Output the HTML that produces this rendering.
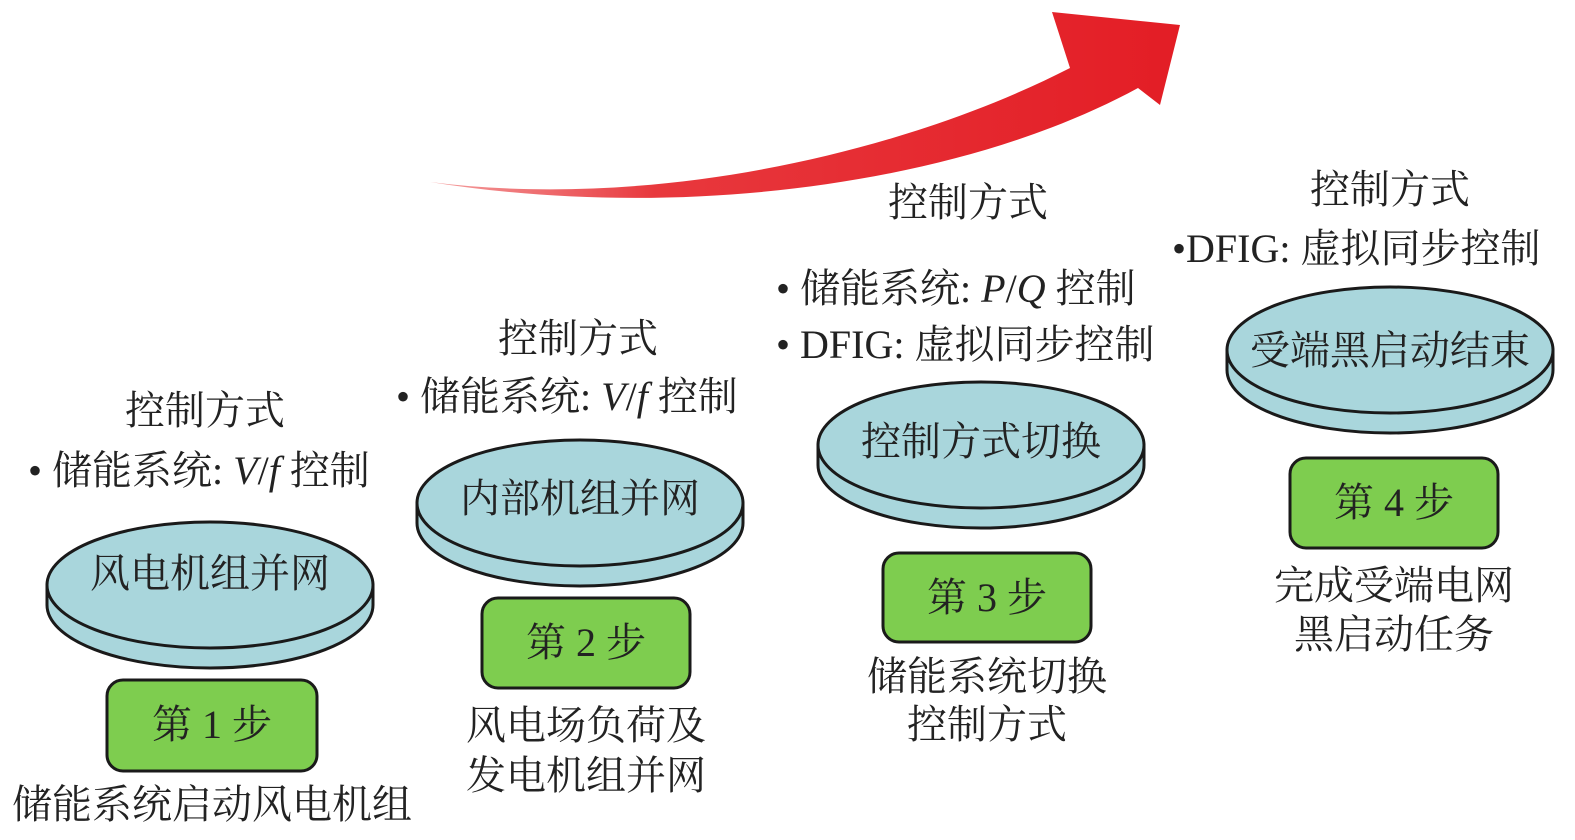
<!DOCTYPE html>
<html><head><meta charset="utf-8"><style>
body{margin:0;background:#fff}
svg text{font-family:"Liberation Serif","Noto Serif CJK SC",serif;font-size:40px;fill:#222}
</style></head><body>
<svg width="1575" height="835" viewBox="0 0 1575 835" xmlns="http://www.w3.org/2000/svg">
<defs>
<linearGradient id="rg" x1="0" y1="0" x2="1" y2="0">
<stop offset="0" stop-color="#f4a0a0"/><stop offset="0.3" stop-color="#e8383d"/><stop offset="1" stop-color="#e31d25"/>
</linearGradient>
<g id="disc">
<path d="M-163,0 L-163,20 A163,63 0 0 0 163,20 L163,0 Z" fill="#a9d6dc" stroke="#1a1a1a" stroke-width="3"/>
<ellipse cx="0" cy="0" rx="163" ry="63" fill="#a9d6dc" stroke="#1a1a1a" stroke-width="3"/>
</g>
</defs>
<path d="M430,182 C650,210 900,155 1070,68 L1052,12 L1180,25 L1160,105 L1138,88 C960,185 680,222 430,182 Z" fill="url(#rg)"/>

<use href="#disc" x="210" y="585"/>
<use href="#disc" x="580" y="503"/>
<use href="#disc" x="981" y="445"/>
<use href="#disc" x="1390" y="350"/>

<g fill="#7ecd4f" stroke="#1a1a1a" stroke-width="3">
<rect x="107" y="680" width="210" height="91" rx="16"/>
<rect x="482" y="598" width="208" height="90" rx="16"/>
<rect x="883" y="553" width="208" height="89" rx="16"/>
<rect x="1290" y="458" width="208" height="90" rx="16"/>
</g>

<g text-anchor="middle">
<text x="210" y="587">风电机组并网</text>
<text x="580" y="512">内部机组并网</text>
<text x="981" y="455">控制方式切换</text>
<text x="1390" y="364">受端黑启动结束</text>
<text x="212" y="738">第 1 步</text>
<text x="586" y="656">第 2 步</text>
<text x="987" y="611">第 3 步</text>
<text x="1394" y="516">第 4 步</text>
<text x="205" y="424">控制方式</text>
<text x="578" y="352">控制方式</text>
<text x="968" y="216">控制方式</text>
<text x="1390" y="203">控制方式</text>
<text x="212" y="818">储能系统启动风电机组</text>
<text x="586" y="739">风电场负荷及</text>
<text x="586" y="789">发电机组并网</text>
<text x="987" y="690">储能系统切换</text>
<text x="987" y="738">控制方式</text>
<text x="1394" y="599">完成受端电网</text>
<text x="1394" y="648">黑启动任务</text>
</g>
<text x="28" y="484">• 储能系统: <tspan font-style="italic">V</tspan>/<tspan font-style="italic">f</tspan> 控制</text>
<text x="396" y="410">• 储能系统: <tspan font-style="italic">V</tspan>/<tspan font-style="italic">f</tspan> 控制</text>
<text x="776" y="302">• 储能系统: <tspan font-style="italic">P</tspan>/<tspan font-style="italic">Q</tspan> 控制</text>
<text x="776" y="358">• DFIG: 虚拟同步控制</text>
<text x="1172" y="262">•DFIG: 虚拟同步控制</text>
</svg>
</body></html>
